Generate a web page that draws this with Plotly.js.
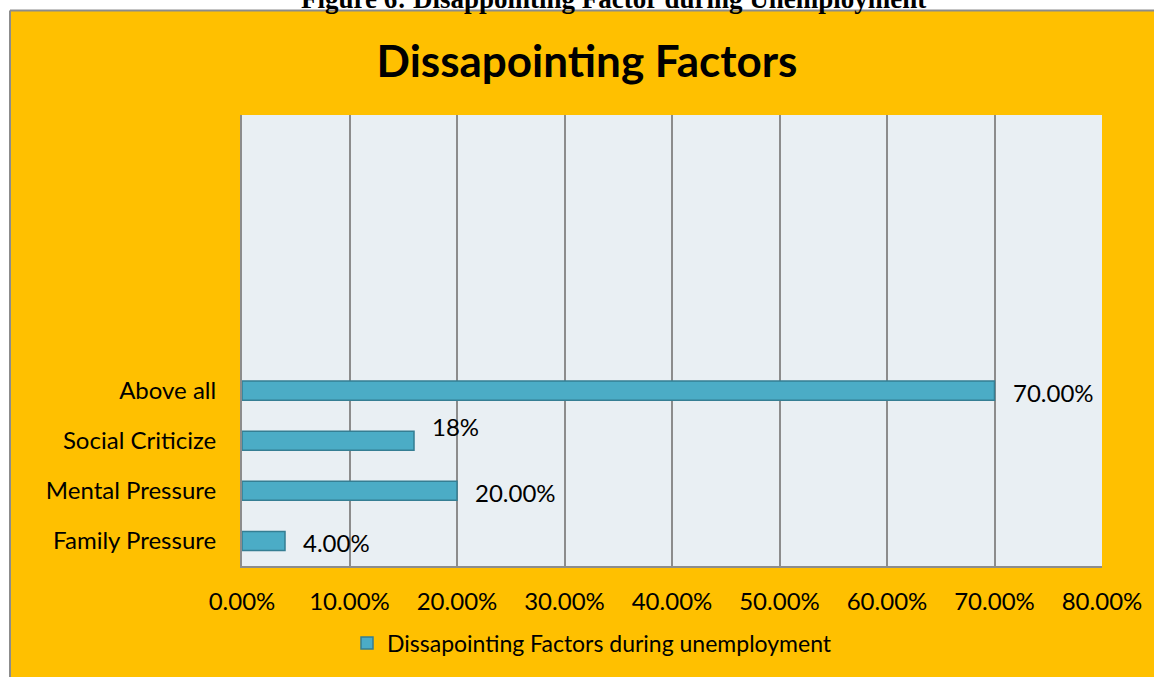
<!DOCTYPE html>
<html>
<head>
<meta charset="utf-8">
<script src="https://cdn.plot.ly/plotly-3.0.1.min.js"></script>
<style>html,body{margin:0;padding:0;background:#fff;}#chart{width:1154px;height:677px;}</style>
</head>
<body>
<div id="chart"></div>
<script>
const categories = ["Family Pressure", "Mental Pressure", "Social Criticize", "Above all"];
const values = [4, 20, 16, 70];
const valueLabels = ["4.00%", "20.00%", "18%", "70.00%"];
const seriesName = "Dissapointing Factors during unemployment";
const chartTitle = "Dissapointing Factors";
const caption = "Figure 6: Disappointing Factor during Unemployment";
const xTickVals = [0, 10, 20, 30, 40, 50, 60, 70, 80];
const xTickText = ["0.00%", "10.00%", "20.00%", "30.00%", "40.00%", "50.00%", "60.00%", "70.00%", "80.00%"];

const font = "Lato, 'Open Sans', sans-serif";
const labelYShift = [-1.5, -1.5, 14, -1.5];

// pixel helpers for decoration placement (plot area 242..1102 x 115..568)
const px = v => (v - 242) / 860;
const py = v => (568 - v) / 453;

const trace = {
  type: "bar",
  orientation: "h",
  x: values,
  y: categories,
  name: seriesName,
  marker: {color: "#4BACC6", line: {color: "#357E93", width: 1.5}},
  hoverinfo: "skip",
  showlegend: true
};

const annotations = categories.map((c, i) => ({
  x: values[i], y: c, xref: "x", yref: "y",
  text: valueLabels[i], showarrow: false,
  xanchor: "left", yanchor: "middle", xshift: 16, yshift: labelYShift[i],
  font: {family: font, size: 24, color: "#000"}
}));
annotations.push({
  x: px(613), y: py(-1.5), xref: "paper", yref: "paper",
  text: "<b>" + caption + "</b>", showarrow: false,
  xanchor: "center", yanchor: "middle",
  font: {family: "'Liberation Serif', 'DejaVu Serif', serif", size: 27, color: "#000"}
});

const layout = {
  width: 1154, height: 677,
  margin: {l: 242, r: 52, t: 115, b: 109},
  paper_bgcolor: "#FFC000",
  plot_bgcolor: "#E9EFF3",
  font: {family: font, size: 24, color: "#000"},
  title: {
    text: "<b>" + chartTitle + "</b>",
    x: 587 / 1154, xref: "container", xanchor: "center",
    y: 1 - 61.5 / 677, yref: "container", yanchor: "middle",
    font: {family: font, size: 44, color: "#000"}
  },
  bargap: 0.62,
  xaxis: {
    range: [0, 80], tickvals: xTickVals, ticktext: xTickText,
    showgrid: true, gridcolor: "#8C8C8C", gridwidth: 2,
    showline: true, linecolor: "#8C8C8C", linewidth: 2,
    zeroline: false, ticks: "outside", ticklen: 13, tickcolor: "rgba(0,0,0,0)",
    tickfont: {family: font, size: 24, color: "#000"}, fixedrange: true
  },
  yaxis: {
    type: "category", categoryorder: "array", categoryarray: categories,
    range: [-0.5, 8.5],
    showgrid: false, showline: true, linecolor: "#8C8C8C", linewidth: 2,
    zeroline: false, ticks: "outside", ticklen: 19, tickcolor: "rgba(0,0,0,0)",
    tickfont: {family: font, size: 24, color: "#000"}, fixedrange: true
  },
  legend: {
    orientation: "h", x: px(592), xanchor: "center",
    y: py(645.5), yanchor: "middle",
    bgcolor: "rgba(0,0,0,0)", font: {family: font, size: 23, color: "#000"}
  },
  shapes: [
    {type: "rect", xref: "paper", yref: "paper", layer: "below",
     x0: px(-5), x1: px(1160), y0: py(10), y1: py(-5),
     fillcolor: "#FFFFFF", line: {width: 0}},
    {type: "rect", xref: "paper", yref: "paper", layer: "below",
     x0: px(-5), x1: px(10), y0: py(690), y1: py(-5),
     fillcolor: "#FFFFFF", line: {width: 0}},
    {type: "line", xref: "paper", yref: "paper", layer: "below",
     x0: px(10), x1: px(1160), y0: py(10), y1: py(10),
     line: {color: "#8C8C8C", width: 2}},
    {type: "line", xref: "paper", yref: "paper", layer: "below",
     x0: px(10), x1: px(10), y0: py(10), y1: py(690),
     line: {color: "#8C8C8C", width: 2}}
  ],
  annotations: annotations
};

Plotly.newPlot("chart", [trace], layout, {displayModeBar: false, staticPlot: true});
</script>
</body>
</html>
